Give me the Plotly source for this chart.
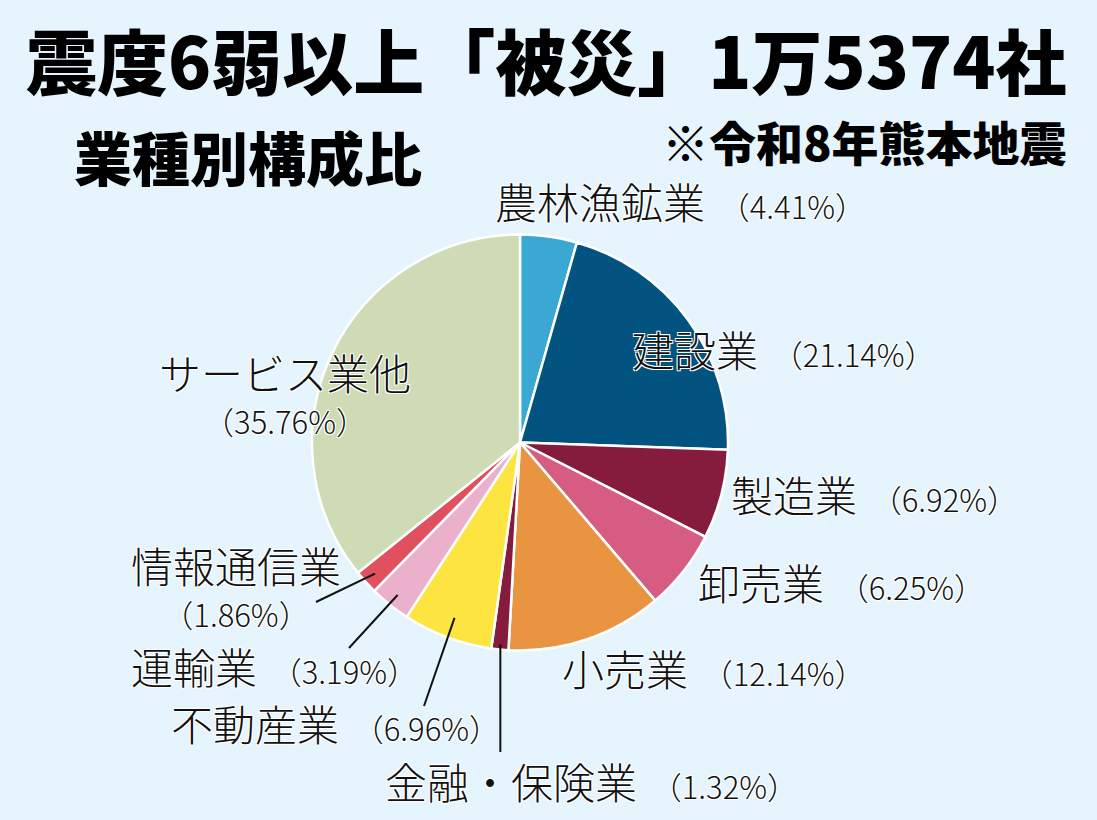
import math
import plotly.graph_objects as go

W, H = 1097, 820

# ---- data ----
categories = ["農林漁鉱業", "建設業", "製造業", "卸売業", "小売業",
              "金融・保険業", "不動産業", "運輸業", "情報通信業", "サービス業他"]
shares = [4.41, 21.14, 6.92, 6.25, 12.14, 1.32, 6.96, 3.19, 1.86, 35.76]
colors = ["#3AA8D3", "#02537F", "#861C3D", "#D65D81", "#E99440",
          "#861C3D", "#FEE440", "#EBB0CC", "#E0505F", "#CEDBB4"]

title_text = "震度6弱以上「被災」1万5374社"
subtitle_text = "業種別構成比"
note_text = "※令和8年熊本地震"

# ---- layout (pixels) ----
CX, CY, R = 520, 442.5, 208
FONT = "Noto Sans CJK JP"
BG = "#E6F4FD"
NAME_SIZE = 42
PCT_SIZE = 31

# label placement: (x, y, mode); 'inline' -> left anchored single line,
# 'stack' -> two centred lines (centre y of the block)
label_pos = {
    "農林漁鉱業": (493, 200, "inline"),
    "建設業": (630, 349, "inline"),
    "製造業": (729, 493, "inline"),
    "卸売業": (696, 581, "inline"),
    "小売業": (560, 667, "inline"),
    "金融・保険業": (383, 780, "inline"),
    "不動産業": (169, 722, "inline"),
    "運輸業": (129, 665, "inline"),
    "情報通信業": (236, 585, "stack"),
    "サービス業他": (285, 392, "stack"),
}
# leader lines: category -> (radial fraction of start point, end x, end y)
leaders = {
    "情報通信業": (0.94, 316, 602),
    "運輸業": (0.94, 349, 648),
    "不動産業": (0.90, 424, 706),
    "金融・保険業": (0.975, None, 752),
}


def px(x, y):
    return x / W, 1 - y / H


fig = go.Figure(go.Pie(
    labels=categories, values=shares, sort=False, direction="clockwise",
    rotation=0, textinfo="none", hoverinfo="label+percent",
    marker=dict(colors=colors, line=dict(color="white", width=2.5)),
    domain=dict(x=[(CX - R) / W, (CX + R) / W], y=[1 - (CY + R) / H, 1 - (CY - R) / H]),
    showlegend=False,
))

shadow = "1px 1px 0 #fff, -1px -1px 0 #fff, 1px -1px 0 #fff, -1px 1px 0 #fff"
ann = []
for name, p in zip(categories, shares):
    pos = label_pos[name]
    x, y = px(pos[0], pos[1])
    if pos[2] == "inline":
        ann.append(dict(x=x, y=y, xref="paper", yref="paper", xanchor="left", yanchor="middle",
                        showarrow=False,
                        text=f"{name}<span style='font-size:{PCT_SIZE}px'>\u00a0\u00a0（{p:.2f}%）</span>",
                        font=dict(family=FONT, size=NAME_SIZE, color="#111", weight=300, shadow=shadow)))
    else:
        ann.append(dict(x=x, y=y, xref="paper", yref="paper", xanchor="center", yanchor="middle",
                        showarrow=False, align="center",
                        text=f"<span style='font-size:{NAME_SIZE}px'>{name}</span><br>"
                             f"<span style='font-size:{PCT_SIZE}px'>（{p:.2f}%）</span>",
                        font=dict(family=FONT, size=34, color="#111", weight=300, shadow=shadow)))

# leader lines from slice mid-angle
total = sum(shares)
cum = 0.0
shapes = []
for name, p in zip(categories, shares):
    mid = (cum + p / 2) / total * 2 * math.pi
    cum += p
    if name in leaders:
        f, ex, ey = leaders[name]
        sx = CX + f * R * math.sin(mid)
        sy = CY - f * R * math.cos(mid)
        if ex is None:
            ex = sx
        x0, y0 = px(sx, sy)
        x1, y1 = px(ex, ey)
        shapes.append(dict(type="line", xref="paper", yref="paper", x0=x0, y0=y0, x1=x1, y1=y1,
                           line=dict(color="#111", width=2)))

# titles
tx, ty = px(546, 58)
ann.append(dict(x=tx, y=ty, xref="paper", yref="paper", xanchor="center", yanchor="middle",
                showarrow=False, text=title_text,
                font=dict(family=FONT, size=71, color="#000", weight=900)))
sx_, sy_ = px(72, 156)
ann.append(dict(x=sx_, y=sy_, xref="paper", yref="paper", xanchor="left", yanchor="middle",
                showarrow=False, text=subtitle_text,
                font=dict(family=FONT, size=58, color="#000", weight=900)))
nx, ny = px(1069, 140)
ann.append(dict(x=nx, y=ny, xref="paper", yref="paper", xanchor="right", yanchor="middle",
                showarrow=False, text=note_text,
                font=dict(family=FONT, size=47, color="#000", weight=900)))

fig.update_layout(
    width=W, height=H, margin=dict(l=0, r=0, t=0, b=0),
    paper_bgcolor=BG, plot_bgcolor=BG,
    annotations=ann, shapes=shapes,
)
fig.write_html("out.html", config={"displayModeBar": False},
               post_script="document.body.style.margin='0';document.body.style.overflow='hidden';")
